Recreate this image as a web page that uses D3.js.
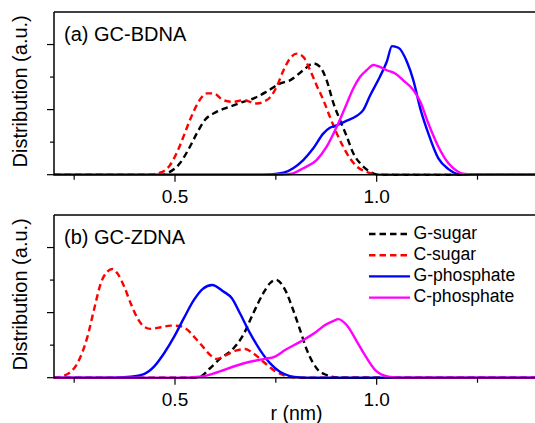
<!DOCTYPE html>
<html><head><meta charset="utf-8">
<script src="https://cdn.jsdelivr.net/npm/d3@7"></script>
<style>body{margin:0;background:#fff}svg{display:block}text{font-family:"Liberation Sans",Arial,sans-serif;fill:#000}</style>
</head><body><svg id="c" width="535" height="423"></svg>
<script>
// ---- data ----
const seriesNames = ["G-sugar","C-sugar","G-phosphate","C-phosphate"];
const seriesColors = ["#000000","#ff0000","#0000ff","#ff00ff"];
const seriesDashed = [true,true,false,false];
const xTickValues = [0.25,0.5,0.75,1.0,1.25];
const xTickLabels = ["","0.5","","1.0",""];
const yTickValues = [0,1,2,3,4];
const panelTitles = ["(a) GC-BDNA","(b) GC-ZDNA"];

// panel (a) GC-BDNA
const aGsugarR = [0.2,0.463,0.479,0.512,0.537,0.554,0.574,0.603,0.636,0.669,0.694,0.727,0.760,0.785,0.818,0.843,0.860,0.876,0.893,0.909,0.926,0.942,0.959,0.984,1.000,1.03,1.4];
const aGsugarV = [0,0,0.04,0.35,0.86,1.27,1.68,1.93,2.09,2.24,2.34,2.55,2.80,2.90,3.21,3.42,3.31,2.90,2.19,1.68,1.17,0.66,0.35,0.09,0.01,0,0];
const aCsugarR = [0.2,0.433,0.463,0.488,0.504,0.521,0.537,0.554,0.579,0.595,0.620,0.645,0.669,0.703,0.719,0.736,0.752,0.769,0.785,0.802,0.818,0.835,0.851,0.868,0.884,0.901,0.917,0.934,0.951,0.975,1.000,1.03,1.4];
const aCsugarV = [0,0,0.06,0.30,0.66,1.17,1.68,2.14,2.50,2.50,2.29,2.24,2.29,2.19,2.24,2.38,2.70,3.21,3.57,3.72,3.62,3.21,2.75,2.29,1.78,1.27,0.86,0.50,0.25,0.09,0.01,0,0];
const aGphosR = [0.2,0.698,0.736,0.769,0.793,0.818,0.843,0.868,0.884,0.901,0.926,0.951,0.967,0.984,1.008,1.025,1.038,1.054,1.075,1.091,1.108,1.128,1.153,1.178,1.202,1.23,1.4];
const aGphosV = [0,0,0.01,0.06,0.20,0.45,0.81,1.27,1.44,1.52,1.66,1.81,1.99,2.44,3.01,3.47,3.95,3.90,3.47,2.90,2.04,1.27,0.50,0.17,0.02,0,0];
const aCphosR = [0.2,0.748,0.785,0.818,0.851,0.876,0.901,0.926,0.942,0.959,0.975,0.992,1.008,1.025,1.046,1.066,1.091,1.108,1.128,1.153,1.178,1.202,1.219,1.25,1.4];
const aCphosV = [0,0,0.02,0.20,0.45,0.86,1.47,2.19,2.65,3.01,3.21,3.37,3.31,3.21,3.11,2.90,2.60,2.25,1.58,0.86,0.35,0.09,0.02,0,0];

// panel (b) GC-ZDNA
const bGsugarR = [0.2,0.537,0.562,0.587,0.614,0.641,0.669,0.694,0.719,0.736,0.750,0.773,0.793,0.810,0.827,0.851,0.876,0.901,0.93,1.4];
const bGsugarV = [0,0,0.03,0.29,0.61,0.85,1.31,1.98,2.60,2.91,3.01,2.70,2.08,1.47,0.85,0.29,0.08,0.01,0,0];
const bCsugarR = [0.2,0.217,0.250,0.266,0.283,0.299,0.316,0.332,0.345,0.357,0.374,0.390,0.407,0.423,0.440,0.465,0.489,0.510,0.531,0.550,0.570,0.587,0.603,0.628,0.653,0.674,0.694,0.719,0.744,0.769,0.793,0.82,1.4];
const bCsugarV = [0,0.03,0.29,0.65,1.26,2.08,2.90,3.26,3.34,3.21,2.80,2.29,1.83,1.57,1.50,1.55,1.60,1.59,1.47,1.22,0.94,0.70,0.58,0.70,0.84,0.88,0.75,0.49,0.24,0.08,0.01,0,0];
const bGphosR = [0.2,0.339,0.390,0.423,0.448,0.473,0.498,0.522,0.547,0.569,0.592,0.620,0.641,0.661,0.686,0.711,0.736,0.760,0.785,0.810,0.84,1.4];
const bGphosV = [0,0,0.03,0.11,0.34,0.75,1.26,1.83,2.39,2.73,2.85,2.65,2.44,1.98,1.37,0.85,0.44,0.18,0.05,0.01,0,0];
const bCphosR = [0.2,0.512,0.562,0.603,0.649,0.686,0.723,0.748,0.773,0.810,0.847,0.872,0.892,0.905,0.926,0.951,0.969,0.996,1.029,1.058,1.4];
const bCphosV = [0,0,0.03,0.16,0.36,0.49,0.58,0.65,0.85,1.10,1.38,1.62,1.74,1.80,1.61,1.11,0.73,0.24,0.03,0,0];

const panelData = [
  [[aGsugarR,aGsugarV],[aCsugarR,aCsugarV],[aGphosR,aGphosV],[aCphosR,aCphosV]],
  [[bGsugarR,bGsugarV],[bCsugarR,bCsugarV],[bGphosR,bGphosV],[bCphosR,bCphosV]]
];

// ---- layout ----
const svg = d3.select("#c");
const left = 54, rightEdge = 535;
const x = d3.scaleLinear().domain([0.2,1.4]).range([left,538]);
const panels = [{top:12,bottom:174.7},{top:215,bottom:377.7}];

svg.append("defs").append("clipPath").attr("id","clip")
  .append("rect").attr("x",left).attr("y",0).attr("width",rightEdge-left).attr("height",423);

panels.forEach((p,pi)=>{
  const y = d3.scaleLinear().domain([0,5]).range([p.bottom,p.top]);
  const g = svg.append("g");
  const line = d3.line().x(d=>x(d[0])).y(d=>y(d[1])).curve(d3.curveMonotoneX);
  const cg = g.append("g").attr("clip-path","url(#clip)");
  panelData[pi].forEach((s,si)=>{
    const pts = s[0].map((r,i)=>[r,s[1][i]]);
    cg.append("path").attr("d",line(pts)).attr("fill","none")
      .attr("stroke",seriesColors[si]).attr("stroke-width",2.4)
      .attr("stroke-dasharray",seriesDashed[si]?"6.5,4":null)
      .attr("stroke-linejoin","round");
  });
  g.append("line").attr("x1",left).attr("x2",rightEdge).attr("y1",p.top).attr("y2",p.top).attr("stroke","#000").attr("stroke-width",1.5);
  g.append("line").attr("x1",left).attr("x2",left).attr("y1",p.top).attr("y2",p.bottom).attr("stroke","#000").attr("stroke-width",1.5);
  g.append("line").attr("x1",left-1).attr("x2",rightEdge).attr("y1",p.bottom).attr("y2",p.bottom).attr("stroke","#000").attr("stroke-width",1.5);
  yTickValues.forEach(v=>{
    const len = v%2===0?7:4;
    g.append("line").attr("x1",left-len).attr("x2",left).attr("y1",y(v)).attr("y2",y(v)).attr("stroke","#000").attr("stroke-width",1.2);
  });
  xTickValues.forEach((v,i)=>{
    const major = xTickLabels[i]!=="";
    g.append("line").attr("x1",x(v)).attr("x2",x(v)).attr("y1",p.bottom).attr("y2",p.bottom+(major?7:5)).attr("stroke","#000").attr("stroke-width",1.2);
    if(major) g.append("text").attr("x",x(v)).attr("y",p.bottom+27.8).attr("text-anchor","middle").attr("font-size",19).text(xTickLabels[i]);
  });
  g.append("text").attr("transform",`translate(27,${(p.top+p.bottom)/2-2}) rotate(-90)`)
    .attr("text-anchor","middle").attr("font-size",20).text("Distribution (a.u.)");
  g.append("text").attr("x",64).attr("y",p.top+28.5).attr("font-size",20).text(panelTitles[pi]);
});

svg.append("text").attr("x",296.5).attr("y",420).attr("text-anchor","middle").attr("font-size",19.5).text("r (nm)");

const lg = svg.append("g");
seriesNames.forEach((n,i)=>{
  const yy = 234 + i*21.2;
  lg.append("line").attr("x1",369).attr("x2",410).attr("y1",yy).attr("y2",yy)
    .attr("stroke",seriesColors[i]).attr("stroke-width",2.4)
    .attr("stroke-dasharray",seriesDashed[i]?"6.5,4":null);
  lg.append("text").attr("x",413.5).attr("y",yy+4.8).attr("font-size",17.6).text(n);
});
</script></body></html>
